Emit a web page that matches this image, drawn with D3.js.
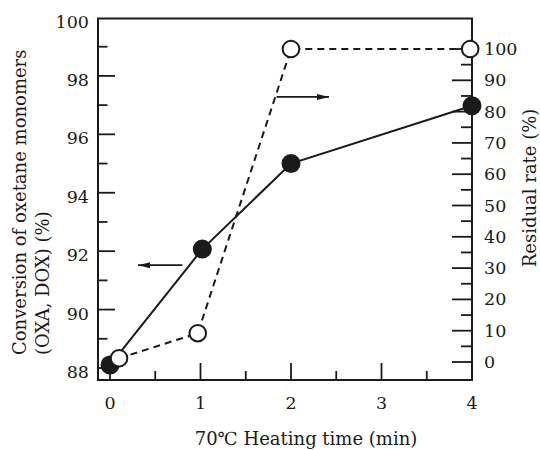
<!DOCTYPE html>
<html>
<head>
<meta charset="utf-8">
<script src="https://cdn.jsdelivr.net/npm/d3@7"></script>
<style>
body { margin: 0; background: #fff; }
svg { display: block; }
text { font-family: "DejaVu Serif", "Liberation Serif", serif; fill: #1a1a1a; }
.tick-label { font-size: 17.5px; }
.title { font-size: 18px; }
</style>
</head>
<body>
<svg></svg>
<script>
// heating time (min)
const convTime = [0, 1.02, 2, 4]
const conversion = [88.1, 92.07, 95.0, 96.98] // left axis (%)
const resTime = [0.1, 0.97, 2, 3.98]
const residual = [1.2, 9.2, 100, 100] // right axis (%)

const xTicks = [0, 1, 2, 3, 4]
const leftTicks = [88, 90, 92, 94, 96, 98, 100]
const rightTicks = [0, 10, 20, 30, 40, 50, 60, 70, 80, 90, 100]

const svg = d3.select("svg")
	.attr("width", 540)
	.attr("height", 450)

const frame = { left: 98, right: 472, top: 18.5, bottom: 380 }

const x = d3.scaleLinear()
	.domain([0, 4])
	.range([110, 472])

const yLeft = d3.scaleLinear()
	.domain([88, 100])
	.range([368, 17.5])

const yRight = d3.scaleLinear()
	.domain([0, 100])
	.range([362, 49])

// frame
svg.append("rect")
	.attr("x", frame.left)
	.attr("y", frame.top)
	.attr("width", frame.right - frame.left)
	.attr("height", frame.bottom - frame.top)
	.attr("fill", "none")
	.attr("stroke", "#1a1a1a")
	.attr("stroke-width", 2)

// left ticks, inward
svg.append("g")
	.selectAll("line")
	.data(d3.range(88, 100, 1))
	.enter()
	.append("line")
	.attr("x1", frame.left)
	.attr("x2", (d) => { return frame.left + (d % 2 === 0 ? 17 : 9.5) })
	.attr("y1", (d) => { return yLeft(d) })
	.attr("y2", (d) => { return yLeft(d) })
	.attr("stroke", "#1a1a1a")
	.attr("stroke-width", 1.8)

svg.append("g")
	.selectAll("text")
	.data(leftTicks)
	.enter()
	.append("text")
	.attr("class", "tick-label")
	.attr("x", 89)
	.attr("y", (d) => { return yLeft(d) + 10 })
	.attr("text-anchor", "end")
	.text((d) => { return d })

// right ticks, inward
svg.append("g")
	.selectAll("line")
	.data(d3.range(0, 101, 5))
	.enter()
	.append("line")
	.attr("x1", frame.right)
	.attr("x2", (d) => { return frame.right - (d % 10 === 0 ? 20 : 11) })
	.attr("y1", (d) => { return yRight(d) })
	.attr("y2", (d) => { return yRight(d) })
	.attr("stroke", "#1a1a1a")
	.attr("stroke-width", 1.8)

svg.append("g")
	.selectAll("text")
	.data(rightTicks)
	.enter()
	.append("text")
	.attr("class", "tick-label")
	.attr("x", 484)
	.attr("y", (d) => { return yRight(d) + 6 })
	.text((d) => { return d })

// bottom ticks, upward
svg.append("g")
	.selectAll("line")
	.data(d3.range(0, 4.01, 0.5))
	.enter()
	.append("line")
	.attr("x1", (d) => { return x(d) })
	.attr("x2", (d) => { return x(d) })
	.attr("y1", frame.bottom)
	.attr("y2", (d) => { return frame.bottom - (d % 1 === 0 ? 17 : 9) })
	.attr("stroke", "#1a1a1a")
	.attr("stroke-width", 1.8)

svg.append("g")
	.selectAll("text")
	.data(xTicks)
	.enter()
	.append("text")
	.attr("class", "tick-label")
	.attr("x", (d) => { return x(d) })
	.attr("y", 409)
	.attr("text-anchor", "middle")
	.text((d) => { return d })

// titles
svg.append("text")
	.attr("class", "title")
	.attr("x", 306)
	.attr("y", 445)
	.attr("text-anchor", "middle")
	.text("70℃ Heating time (min)")

const leftTitle = svg.append("text")
	.attr("class", "title")
	.attr("transform", "translate(20, 355) rotate(-90)")
	.attr("dy", "0.35em")
leftTitle.append("tspan").attr("x", 0).text("Conversion of oxetane monomers")
leftTitle.append("tspan").attr("x", 0).attr("dy", 23).text("(OXA, DOX) (%)")

svg.append("text")
	.attr("class", "title")
	.attr("transform", "translate(530, 188) rotate(-90)")
	.attr("dy", "0.35em")
	.attr("text-anchor", "middle")
	.text("Residual rate (%)")

// lines
const convLine = d3.line()
	.x((d, i) => { return x(convTime[i]) })
	.y((d) => { return yLeft(d) })

const resLine = d3.line()
	.x((d, i) => { return x(resTime[i]) })
	.y((d) => { return yRight(d) })

svg.append("path")
	.datum(residual)
	.attr("d", resLine)
	.attr("fill", "none")
	.attr("stroke", "#1a1a1a")
	.attr("stroke-width", 2)
	.attr("stroke-dasharray", "7,5")

svg.append("path")
	.datum(conversion)
	.attr("d", convLine)
	.attr("fill", "none")
	.attr("stroke", "#1a1a1a")
	.attr("stroke-width", 2)

svg.append("g")
	.selectAll("circle")
	.data(conversion)
	.enter()
	.append("circle")
	.attr("cx", (d, i) => { return x(convTime[i]) })
	.attr("cy", (d) => { return yLeft(d) })
	.attr("r", 9.5)
	.attr("fill", "#1a1a1a")

svg.append("g")
	.selectAll("circle")
	.data(residual)
	.enter()
	.append("circle")
	.attr("cx", (d, i) => { return x(resTime[i]) })
	.attr("cy", (d) => { return yRight(d) })
	.attr("r", 8.3)
	.attr("fill", "#fff")
	.attr("stroke", "#1a1a1a")
	.attr("stroke-width", 2)

// arrows pointing at each series' axis
svg.append("defs")
	.append("marker")
	.attr("id", "head")
	.attr("viewBox", "0 0 12 8")
	.attr("refX", 12)
	.attr("refY", 4)
	.attr("markerWidth", 12)
	.attr("markerHeight", 8)
	.attr("markerUnits", "userSpaceOnUse")
	.attr("orient", "auto")
	.append("path")
	.attr("d", "M0,1 L12,4 L0,7 Z")
	.attr("fill", "#1a1a1a")

svg.append("line")
	.attr("x1", x(0.8))
	.attr("x2", x(0.31))
	.attr("y1", yLeft(91.52))
	.attr("y2", yLeft(91.52))
	.attr("stroke", "#1a1a1a")
	.attr("stroke-width", 1.8)
	.attr("marker-end", "url(#head)")

svg.append("line")
	.attr("x1", x(1.84))
	.attr("x2", x(2.42))
	.attr("y1", yRight(84.7))
	.attr("y2", yRight(84.7))
	.attr("stroke", "#1a1a1a")
	.attr("stroke-width", 1.8)
	.attr("marker-end", "url(#head)")
</script>
</body>
</html>
